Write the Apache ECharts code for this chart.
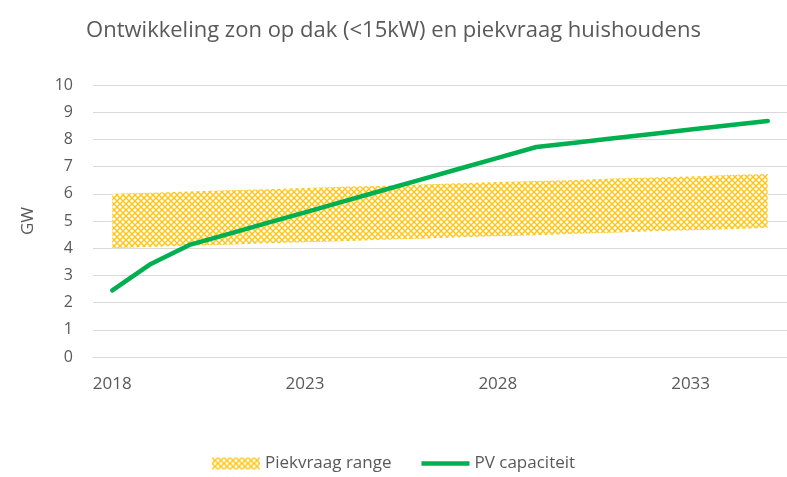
<!DOCTYPE html>
<html>
<head>
<meta charset="utf-8">
<script src="https://cdn.jsdelivr.net/npm/echarts@6/dist/echarts.min.js"></script>
<style>
  html, body { margin: 0; padding: 0; background: #fff; }
  #chart { width: 787px; height: 477px; }
</style>
</head>
<body>
<div id="chart"></div>
<script>
// jaren
var years = ["2018","2019","2020","2021","2022","2023","2024","2025","2026","2027","2028","2029","2030","2031","2032","2033","2034","2035"];
// piekvraag onder- en bovengrens (GW)
var piekLow  = [4.00, 4.05, 4.09, 4.13, 4.18, 4.22, 4.26, 4.31, 4.35, 4.40, 4.44, 4.48, 4.53, 4.57, 4.62, 4.66, 4.70, 4.75];
var piekHigh = [6.00, 6.04, 6.08, 6.13, 6.17, 6.21, 6.26, 6.30, 6.34, 6.39, 6.43, 6.47, 6.51, 6.56, 6.60, 6.64, 6.69, 6.73];
// PV capaciteit (GW)
var pvCap = [2.45, 3.42, 4.12, 4.52, 4.92, 5.32, 5.72, 6.12, 6.52, 6.92, 7.32, 7.72, 7.88, 8.04, 8.20, 8.36, 8.52, 8.68];
var yTicks = [0, 1, 2, 3, 4, 5, 6, 7, 8, 9, 10];

var piekWidth = piekHigh.map(function (v, i) { return +(v - piekLow[i]).toFixed(2); });

// ruitjespatroon voor de band
function makePattern() {
  var c = document.createElement("canvas");
  c.width = 6; c.height = 6;
  var ctx = c.getContext("2d");
  ctx.fillStyle = "#fff";
  ctx.fillRect(0, 0, 6, 6);
  ctx.strokeStyle = "rgba(255,192,0,0.9)";
  ctx.lineWidth = 1.5;
  ctx.beginPath();
  ctx.moveTo(0, 0); ctx.lineTo(6, 6);
  ctx.moveTo(6, 0); ctx.lineTo(0, 6);
  ctx.stroke();
  return c;
}
var pattern = { image: makePattern(), repeat: "repeat" };

var textColor = "#595959";
var font = "'Open Sans', 'Liberation Sans', sans-serif";

var myChart = echarts.init(document.getElementById("chart"));
var option = {
  animation: false,
  title: {
    text: "Ontwikkeling zon op dak (<15kW) en piekvraag huishoudens",
    left: "center",
    top: 15,
    textStyle: { color: textColor, fontSize: 22, fontWeight: "normal", fontFamily: font }
  },
  legend: {
    bottom: 0,
    left: "center",
    itemGap: 30,
    itemWidth: 48,
    itemHeight: 12,
    textStyle: { color: textColor, fontSize: 17, fontFamily: font },
    data: [
      { name: "Piekvraag range", icon: "rect" },
      { name: "PV capaciteit", icon: "path://M0,0 H48 V4.5 H0 Z" }
    ]
  },
  grid: { left: 93, right: -4, top: 85, bottom: 120 },
  xAxis: {
    type: "category",
    data: years,
    boundaryGap: true,
    axisLine: { show: true, lineStyle: { color: "#d9d9d9", width: 1 } },
    axisTick: { show: false },
    axisLabel: { interval: 4, color: textColor, fontSize: 17, fontFamily: font, margin: 19 }
  },
  yAxis: {
    type: "value",
    min: yTicks[0],
    max: yTicks[yTicks.length - 1],
    interval: 1,
    name: "GW",
    nameLocation: "middle",
    nameGap: 56,
    nameTextStyle: { color: textColor, fontSize: 17, fontFamily: font },
    axisLine: { show: false },
    axisTick: { show: false },
    axisLabel: { color: textColor, fontSize: 16, fontFamily: font, margin: 20 },
    splitLine: { lineStyle: { color: "#d9d9d9", width: 1 } }
  },
  series: [
    {
      name: "onder",
      type: "line",
      stack: "piek",
      data: piekLow,
      symbol: "none",
      lineStyle: { width: 0 },
      areaStyle: { opacity: 0 },
      silent: true
    },
    {
      name: "Piekvraag range",
      type: "line",
      stack: "piek",
      data: piekWidth,
      symbol: "none",
      lineStyle: { width: 0 },
      itemStyle: { color: pattern },
      areaStyle: { color: pattern, opacity: 1 }
    },
    {
      name: "PV capaciteit",
      type: "line",
      data: pvCap,
      symbol: "none",
      z: 5,
      lineStyle: { color: "#00B050", width: 4.5, cap: "round", join: "round" },
      itemStyle: { color: "#00B050" }
    }
  ]
};
myChart.setOption(option);
window.addEventListener("resize", function () { myChart.resize(); });
</script>
</body>
</html>
